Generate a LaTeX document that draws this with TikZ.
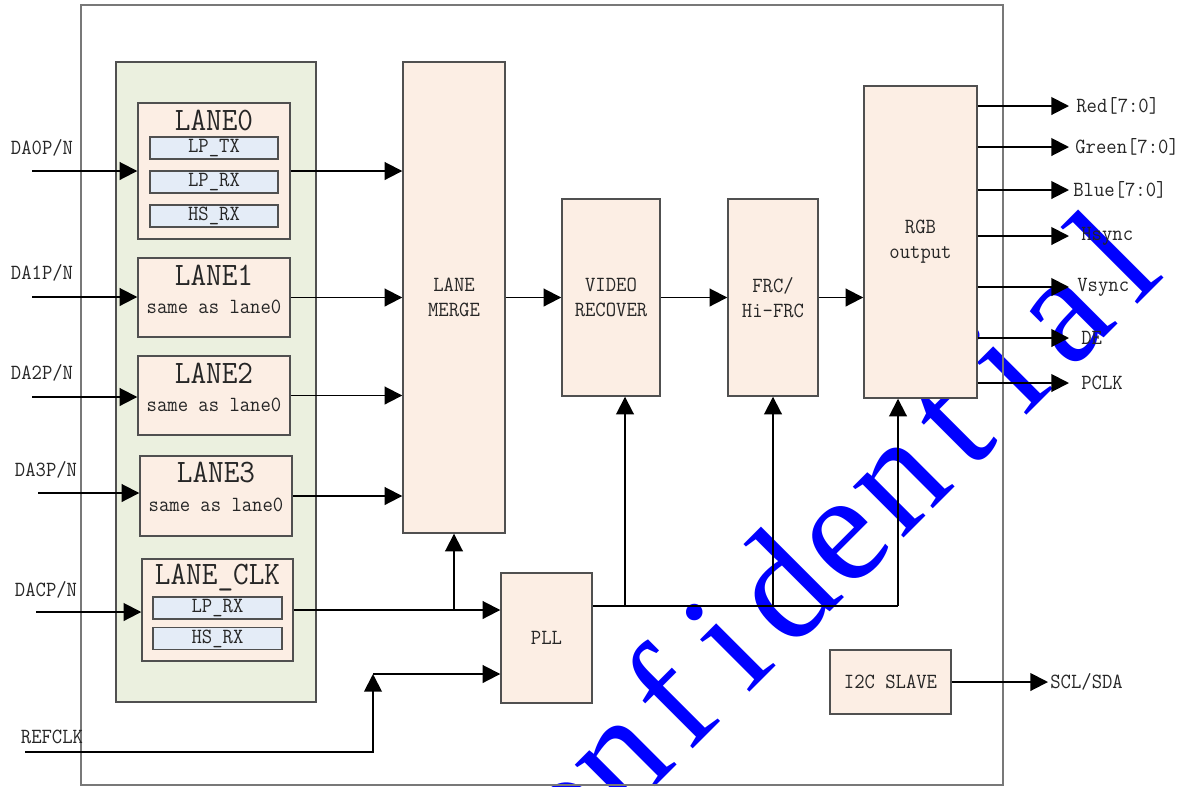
\documentclass[tikz,border=0pt]{standalone}
\usepackage{fontspec}
\setmainfont{Latin Modern Mono}[FakeStretch=0.93]
\newfontfamily\wmfont{Liberation Serif}
\usetikzlibrary{arrows.meta,positioning}
\definecolor{peach}{RGB}{252,238,228}
\definecolor{grpgreen}{RGB}{235,240,223}
\definecolor{subblue}{RGB}{228,236,247}
\definecolor{boxgray}{RGB}{80,80,80}
\definecolor{chipgray}{RGB}{120,120,120}
\definecolor{wmblue}{RGB}{0,0,255}

\begin{document}
\begin{tikzpicture}[
  blk/.style={draw=boxgray, fill=peach, line width=0.8pt, inner sep=0pt, align=center, text=black!85, font=\fontsize{12.3}{14.4}\selectfont},
  sub/.style={draw=boxgray, fill=subblue, line width=0.8pt, minimum width=2.56cm, minimum height=0.44cm, inner sep=0pt, text=black!85, font=\fontsize{12.3}{14.4}\selectfont},
  ttl/.style={inner sep=0pt, text=black!85, font=\fontsize{18.6}{22}\selectfont},
  lbl/.style={inner sep=0pt, text=black!85, font=\fontsize{12.3}{14.4}\selectfont},
  arr/.style={line width=1.1pt, -{Triangle[length=10pt,width=10pt]}},
  wire/.style={line width=1.1pt},
  wm/.style={text=wmblue, inner sep=0pt, rotate=45, font=\wmfont\fontsize{89}{89}\selectfont}]
\useasboundingbox (0,0) rectangle (23.84,-15.72);
\fill[white] (0,0) rectangle (23.84,-15.72);
\clip (0,0) rectangle (23.84,-15.72);

% watermark
\foreach \ch [count=\i] in {C,o,n,f,i,d,e,n,t,i,a,l}
  \node[wm, anchor=base] (wm\i) at ({23.02-(12-\i)*1.11},{-5.82-(12-\i)*1.11}) {\ch};

% chip and lane group
\node[draw=chipgray, line width=0.7pt, minimum width=18.44cm, minimum height=15.6cm] (chip) at (10.84,-7.90) {};
\node[draw=boxgray, fill=grpgreen, line width=0.8pt, minimum width=4cm, minimum height=12.8cm] (grp) at (4.32,-7.64) {};

% lanes
\node[blk, minimum width=3.04cm, minimum height=2.72cm] (lane0) at (4.28,-3.42) {};
\node[ttl] (ttl0) at (4.28,-2.40) {LANE0};
\node[sub] (lptx0) at (4.28,-2.96) {LP\_TX};
\node[sub] (lprx0) at (4.28,-3.64) {LP\_RX};
\node[sub] (hsrx0) at (4.28,-4.32) {HS\_RX};

\node[blk, minimum width=3.04cm, minimum height=1.58cm] (lane1) at (4.28,-5.95) {};
\node[ttl] (ttl1) at (4.28,-5.50) {LANE1};
\node[lbl] (same1) at (4.28,-6.14) {same as lane0};

\node[blk, minimum width=3.04cm, minimum height=1.58cm] (lane2) at (4.28,-7.91) {};
\node[ttl] (ttl2) at (4.28,-7.46) {LANE2};
\node[lbl] (same2) at (4.28,-8.10) {same as lane0};

\node[blk, minimum width=3.04cm, minimum height=1.60cm] (lane3) at (4.32,-9.92) {};
\node[ttl] (ttl3) at (4.32,-9.44) {LANE3};
\node[lbl] (same3) at (4.32,-10.10) {same as lane0};

\node[blk, minimum width=3.02cm, minimum height=2.04cm] (lclk) at (4.35,-12.20) {};
\node[ttl] (ttlclk) at (4.35,-11.56) {LANE\_CLK};
\node[sub, minimum width=2.58cm] (lprxclk) at (4.35,-12.16) {LP\_RX};
\node[sub, minimum width=2.58cm] (hsrxclk) at (4.35,-12.77) {HS\_RX};

% main blocks
\node[blk, minimum width=2.04cm, minimum height=9.42cm] (merge) at (9.08,-5.95) {LANE\\MERGE};
\node[blk, minimum width=1.82cm, minimum height=2.60cm] (pll) at (10.93,-12.76) {PLL};
\node[blk, minimum width=1.96cm, minimum height=3.94cm] (vr) at (12.22,-5.95) {VIDEO\\RECOVER};
\node[blk, minimum width=1.80cm, minimum height=3.94cm] (frc) at (15.46,-5.95) {FRC/\\Hi-FRC};
\node[blk, minimum width=2.26cm, minimum height=6.24cm] (rgb) at (18.41,-4.84) {RGB\\output};
\node[blk, minimum width=2.42cm, minimum height=1.28cm] (i2c) at (17.81,-13.64) {I2C SLAVE};

% inputs
\node[lbl] (da0lbl) at (0.84,-2.96) {DA0P/N};
\node[lbl] (da1lbl) at (0.84,-5.46) {DA1P/N};
\node[lbl] (da2lbl) at (0.84,-7.46) {DA2P/N};
\node[lbl] (da3lbl) at (0.92,-9.40) {DA3P/N};
\node[lbl] (daclbl) at (0.92,-11.80) {DACP/N};
\node[lbl] (reflbl) at (1.04,-14.74) {REFCLK};
\coordinate (da0) at (0.64,-3.42);
\coordinate (da1) at (0.64,-5.94);
\coordinate (da2) at (0.64,-7.94);
\coordinate (da3) at (0.76,-9.86);
\coordinate (dac) at (0.72,-12.24);
\coordinate (refclk) at (0.50,-15.04);
\coordinate (refup) at (7.46,-13.48);
\draw[arr] (da0) -- (da0-|lane0.west);
\draw[arr] (da1) -- (da1-|lane1.west);
\draw[arr] (da2) -- (da2-|lane2.west);
\draw[arr] (da3) -- (da3-|lane3.west);
\draw[arr] (dac) -- (dac-|lclk.west);
\draw[arr] (refclk) -| (refup);
\draw[arr] (refup) -- (refup-|pll.west);

% lanes to merge, clock lane to pll
\draw[arr] (lane0.east) -- (lane0.east-|merge.west);
\draw[arr] (lane1.east) -- (lane1.east-|merge.west);
\draw[arr] (lane2.east) -- (lane2.east-|merge.west);
\draw[arr] (lane3.east) -- (lane3.east-|merge.west);
\draw[arr] (lclk.east) -- (lclk.east-|pll.west);
\draw[arr] (lclk.east-|merge.south) -- (merge.south);

% datapath
\draw[arr] (merge.east) -- (vr.west);
\draw[arr] (vr.east) -- (frc.west);
\draw[arr] (frc.east) -- (frc.east-|rgb.west);

% pixel clock
\coordinate (clkbus) at (17.96,-12.12);
\coordinate (tapvr) at (12.50,-12.12);
\draw[wire] (clkbus-|pll.east) -- (clkbus);
\draw[arr] (tapvr) -- (tapvr|-vr.south);
\draw[arr] (clkbus-|frc.south) -- (frc.south);
\draw[arr] (clkbus) -- (clkbus|-rgb.south);

% outputs
\foreach \nm/\y/\lx/\txt in {red/-2.12/21.52/{Red[7:0]}, green/-2.94/21.50/{Green[7:0]},
    blue/-3.80/21.46/{Blue[7:0]}, hs/-4.72/21.62/Hsync, vs/-5.74/21.54/Vsync,
    de/-6.76/21.62/DE, pclk/-7.66/21.62/PCLK} {
  \coordinate (\nm) at (21.38,\y);
  \draw[arr] (\nm-|rgb.east) -- (\nm);
  \node[lbl, anchor=west] (\nm lbl) at (\lx,\y) {\txt};
}
\coordinate (scl) at (20.96,-13.64);
\draw[arr] (i2c.east) -- (scl);
\node[lbl, anchor=west] (scllbl) at (21.00,-13.64) {SCL/SDA};
\end{tikzpicture}
\end{document}
